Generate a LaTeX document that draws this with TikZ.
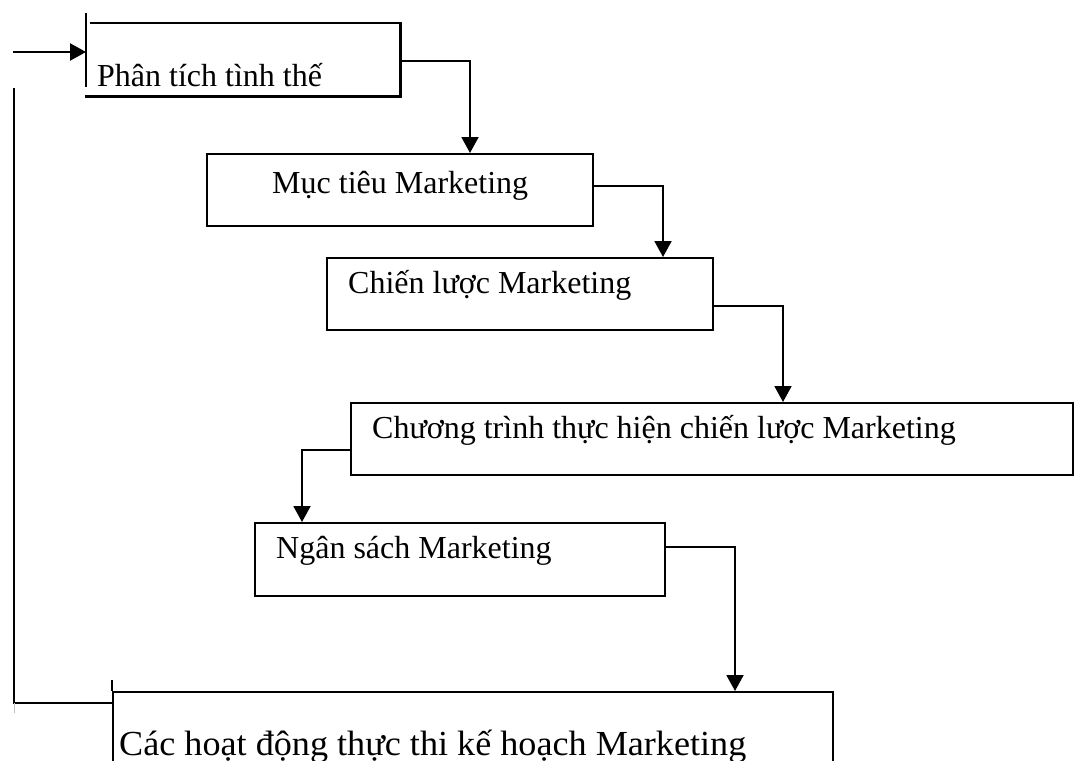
\documentclass[tikz,border=0pt]{standalone}
\usepackage{fontspec}
\setmainfont{Liberation Serif}
\usetikzlibrary{arrows.meta}
\tikzset{
  box/.style={draw, line width=2.2pt, inner sep=0, anchor=north west},
  plainbox/.style={inner sep=0, anchor=north west},
  edge/.style={line width=2.2pt},
  conn/.style={line width=1.9pt},
  arr/.style={conn, -{Triangle[length=16pt,width=17pt]}},
  lbl/.style={inner sep=0, anchor=base west, font=\fontsize{32}{38}\selectfont},
}
\begin{document}
\begin{tikzpicture}[x=1pt, y=-1pt]
\useasboundingbox (0,0) rectangle (1075,760);
\clip (0,0) rectangle (1075,760);
\fill[white] (0,0) rectangle (1075,760);

% boxes of the planning steps
\node[plainbox, minimum width=314pt, minimum height=73pt] (b1) at (86,23) {};
\node[box, minimum width=386pt, minimum height=72pt] (b2) at (206,153) {};
\node[box, minimum width=386pt, minimum height=72pt] (b3) at (326,257) {};
\node[box, minimum width=722pt, minimum height=72pt] (b4) at (350,402) {};
\node[box, minimum width=410pt, minimum height=73pt] (b5) at (254,522) {};
\node[box, minimum width=720pt, minimum height=120pt] (b6) at (112,691) {};

% first box: left side runs above the top and stops short of the bottom
\draw[edge] ([yshift=10pt]b1.north west) -- ([yshift=9pt]b1.south west);
\draw[edge] ([xshift=4pt]b1.north west) -- (b1.north east) -- (b1.south east) -- ([xshift=-1pt]b1.south west);
% last box: left side starts a little above its top
\draw[edge] (b6.north west) -- ([yshift=11pt]b6.north west);

% labels
\node[lbl] (t1) at (97,86) {Phân tích tình thế};
\node[lbl] (t2) at (272,193) {Mục tiêu Marketing};
\node[lbl] (t3) at (348,293) {Chiến lược Marketing};
\node[lbl] (t4) at (372,438) {Chương trình thực hiện chiến lược Marketing};
\node[lbl] (t5) at (276,558) {Ngân sách Marketing};
\node[lbl] (t6) at (119,755) {\scalebox{1.13}[1.1]{Các hoạt động thực thi kế hoạch Marketing}};

% step-to-step connectors
\draw[arr] ([yshift=-1.5pt]b1.east) -| ([xshift=264pt]b2.north west);
\draw[arr] ([yshift=4pt]b2.east) -| ([xshift=337pt]b3.north west);
\draw[arr] ([yshift=-12pt]b3.east) -| ([xshift=433pt]b4.north west);
\draw[arr] ([yshift=-11pt]b4.west) -| ([xshift=48pt]b5.north west);
\draw[arr] ([yshift=12.5pt]b5.east) -| ([xshift=623pt]b6.north west);

% feedback loop back to the first step
\coordinate (fbend) at (14,88);
\coordinate (fbin) at (13,52);
\draw[conn] ([yshift=-12pt]b6.north west) -| (fbend);
\draw[gray!50, line width=1pt] (14,703) -- (14,713);
\draw[arr, line width=2.4pt] (fbin) -- (fbin -| b1.west);
\end{tikzpicture}
\end{document}
